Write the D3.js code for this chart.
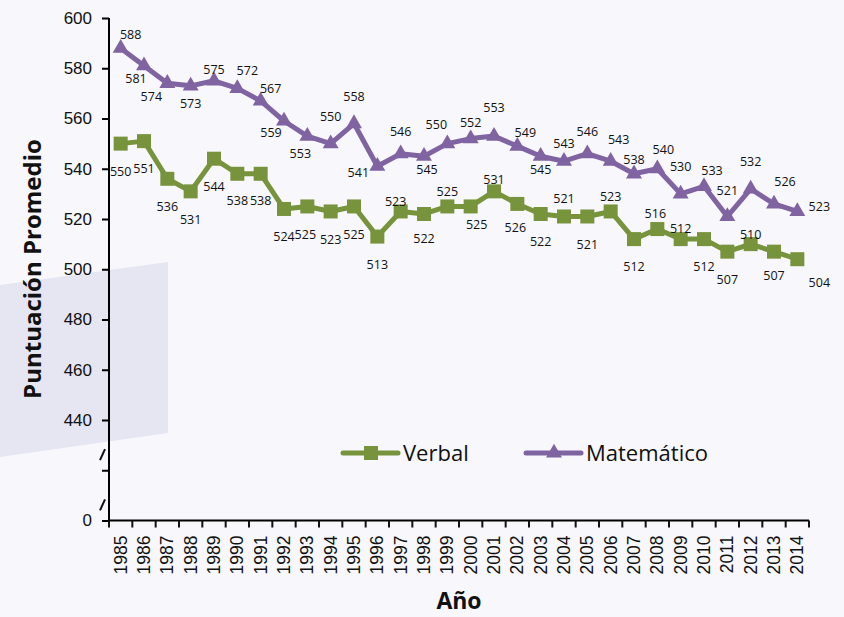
<!DOCTYPE html>
<html>
<head>
<meta charset="utf-8">
<script src="https://cdn.jsdelivr.net/npm/d3@7"></script>
<style>
  body { margin: 0; background: #f7f7fc; }
  svg { display: block; font-family: "Open Sans", sans-serif; }
</style>
</head>
<body>
<script>
var years = d3.range(1985, 2015).map(String);
var verbal = [550, 551, 536, 531, 544, 538, 538, 524, 525, 523, 525, 513, 523, 522, 525,
              525, 531, 526, 522, 521, 521, 523, 512, 516, 512, 512, 507, 510, 507, 504];
var matematico = [588, 581, 574, 573, 575, 572, 567, 559, 553, 550, 558, 541, 546, 545, 550,
                  552, 553, 549, 545, 543, 546, 543, 538, 540, 530, 533, 521, 532, 526, 523];
var yTicks = [600, 580, 560, 540, 520, 500, 480, 460, 440, 420, 400];
var yTickLabels = ["600", "580", "560", "540", "520", "500", "480", "460", "440", "", "0"];

// label placement (offset from marker), like excel's manual labels
var verbalLab = [[0,28],[0,28],[0,28],[0,28],[0,28],[0,27],[0,27],[0,28],[-2,28],[0,28],
                 [0,28],[0,28],[-5,-10],[0,25],[0,-15],[6,18],[0,-12],[-2,24],[0,28],[0,-18],
                 [0,28],[0,-15],[0,28],[-2,-15],[0,-10],[0,28],[0,28],[0,-10],[0,24],[22,23]];
var mateLab = [[10,-14],[-8,13],[-16,13],[0,18],[0,-11],[10,-18],[10,-12],[-13,12],[-7,18],[0,-27],
               [0,-27],[-19,6],[0,-22],[3,13],[-11,-19],[0,-16],[0,-28],[8,-14],[0,13],[0,-18],
               [0,-22],[8,-22],[0,-14],[6,-19],[0,-27],[8,-16],[0,-26],[0,-27],[11,-22],[22,-5]];

var width = 844, height = 617;
var green = "#77933c", purple = "#8064a2";

var svg = d3.select("body").append("svg")
  .attr("width", width)
  .attr("height", height);

// decorative band behind the axis
svg.append("path")
  .attr("d", "M0,285 L168,262 L168,433 L0,457 Z")
  .attr("fill", "#e6e6f3");

var x = d3.scaleBand().domain(years).range([109, 809]);
var y = d3.scaleLinear().domain([400, 600]).range([520.5, 18]);

var yAxis = svg.append("g")
  .attr("transform", "translate(109,0)")
  .call(d3.axisLeft(y).tickValues(yTicks)
    .tickFormat(function(d, i) { return yTickLabels[i]; })
    .tickSize(7).tickPadding(10));
yAxis.select(".domain").attr("stroke-width", 2).attr("d", "M0," + y(600) + "V" + y(400));
yAxis.selectAll(".tick line").attr("stroke-width", 2);
yAxis.selectAll("text").style("font-size", "17px").attr("fill", "#111");

// axis break slashes
[426, 406].forEach(function(v) {
  svg.append("line")
    .attr("x1", 100).attr("y1", y(v) + 5)
    .attr("x2", 105).attr("y2", y(v) - 6)
    .attr("stroke", "#111").attr("stroke-width", 2);
});

var xAxis = svg.append("g")
  .attr("transform", "translate(0," + y(400) + ")")
  .call(d3.axisBottom(x).tickSize(0).tickPadding(0));
xAxis.select(".domain").attr("stroke-width", 2).attr("d", "M109,0H809");
xAxis.selectAll("text")
  .style("font-size", "17.5px")
  .attr("fill", "#111")
  .attr("text-anchor", "end")
  .attr("transform", "rotate(-90)")
  .attr("x", -15)
  .attr("y", 0)
  .attr("dy", "0.35em");
// ticks at band edges
xAxis.selectAll(".edge")
  .data(years.concat(["end"]))
  .enter().append("line")
  .attr("class", "edge")
  .attr("x1", function(d, i) { return 109 + i * x.step(); })
  .attr("x2", function(d, i) { return 109 + i * x.step(); })
  .attr("y1", 0).attr("y2", 7)
  .attr("stroke", "#111").attr("stroke-width", 2);

var line = d3.line()
  .x(function(d, i) { return x(years[i]) + x.bandwidth() / 2; })
  .y(function(d) { return y(d); });

function drawSeries(vals, col, sym, size, labs) {
  svg.append("path")
    .datum(vals)
    .attr("d", line)
    .attr("fill", "none")
    .attr("stroke", col)
    .attr("stroke-width", 5)
    .attr("stroke-linejoin", "round");
  svg.selectAll(null)
    .data(vals)
    .enter().append("path")
    .attr("d", d3.symbol().type(sym).size(size))
    .attr("transform", function(d, i) {
      return "translate(" + (x(years[i]) + x.bandwidth() / 2) + "," + y(d) + ")";
    })
    .attr("fill", col);
  svg.selectAll(null)
    .data(vals)
    .enter().append("text")
    .attr("x", function(d, i) { return x(years[i]) + x.bandwidth() / 2 + labs[i][0]; })
    .attr("y", function(d, i) { return y(d) + labs[i][1]; })
    .attr("dy", "0.35em")
    .attr("text-anchor", "middle")
    .style("font-size", "12.5px")
    .attr("fill", "#111")
    .text(function(d) { return d; });
}

drawSeries(verbal, green, d3.symbolSquare, 196, verbalLab);
drawSeries(matematico, purple, d3.symbolTriangle, 110, mateLab);

// legend
var legend = [
  {name: "Verbal", col: green, sym: d3.symbolSquare, size: 196, x0: 343},
  {name: "Matemático", col: purple, sym: d3.symbolTriangle, size: 110, x0: 526}
];
var lg = svg.selectAll(".legend")
  .data(legend)
  .enter().append("g")
  .attr("class", "legend")
  .attr("transform", function(d) { return "translate(" + d.x0 + ",453)"; });
lg.append("line")
  .attr("x1", 0).attr("x2", 55)
  .attr("stroke", function(d) { return d.col; })
  .attr("stroke-width", 5)
  .attr("stroke-linecap", "round");
lg.append("path")
  .attr("d", function(d) { return d3.symbol().type(d.sym).size(d.size)(); })
  .attr("transform", "translate(28,0)")
  .attr("fill", function(d) { return d.col; });
lg.append("text")
  .attr("x", 60)
  .attr("dy", "0.35em")
  .style("font-size", "22px")
  .attr("fill", "#111")
  .text(function(d) { return d.name; });

// axis titles
svg.append("text")
  .attr("transform", "translate(41,269) rotate(-90)")
  .attr("text-anchor", "middle")
  .style("font-size", "24px")
  .style("font-weight", "bold")
  .attr("fill", "#111")
  .text("Puntuación Promedio");

svg.append("text")
  .attr("x", 459)
  .attr("y", 609)
  .attr("text-anchor", "middle")
  .style("font-size", "23px")
  .style("font-weight", "bold")
  .attr("fill", "#111")
  .text("Año");
</script>
</body>
</html>
